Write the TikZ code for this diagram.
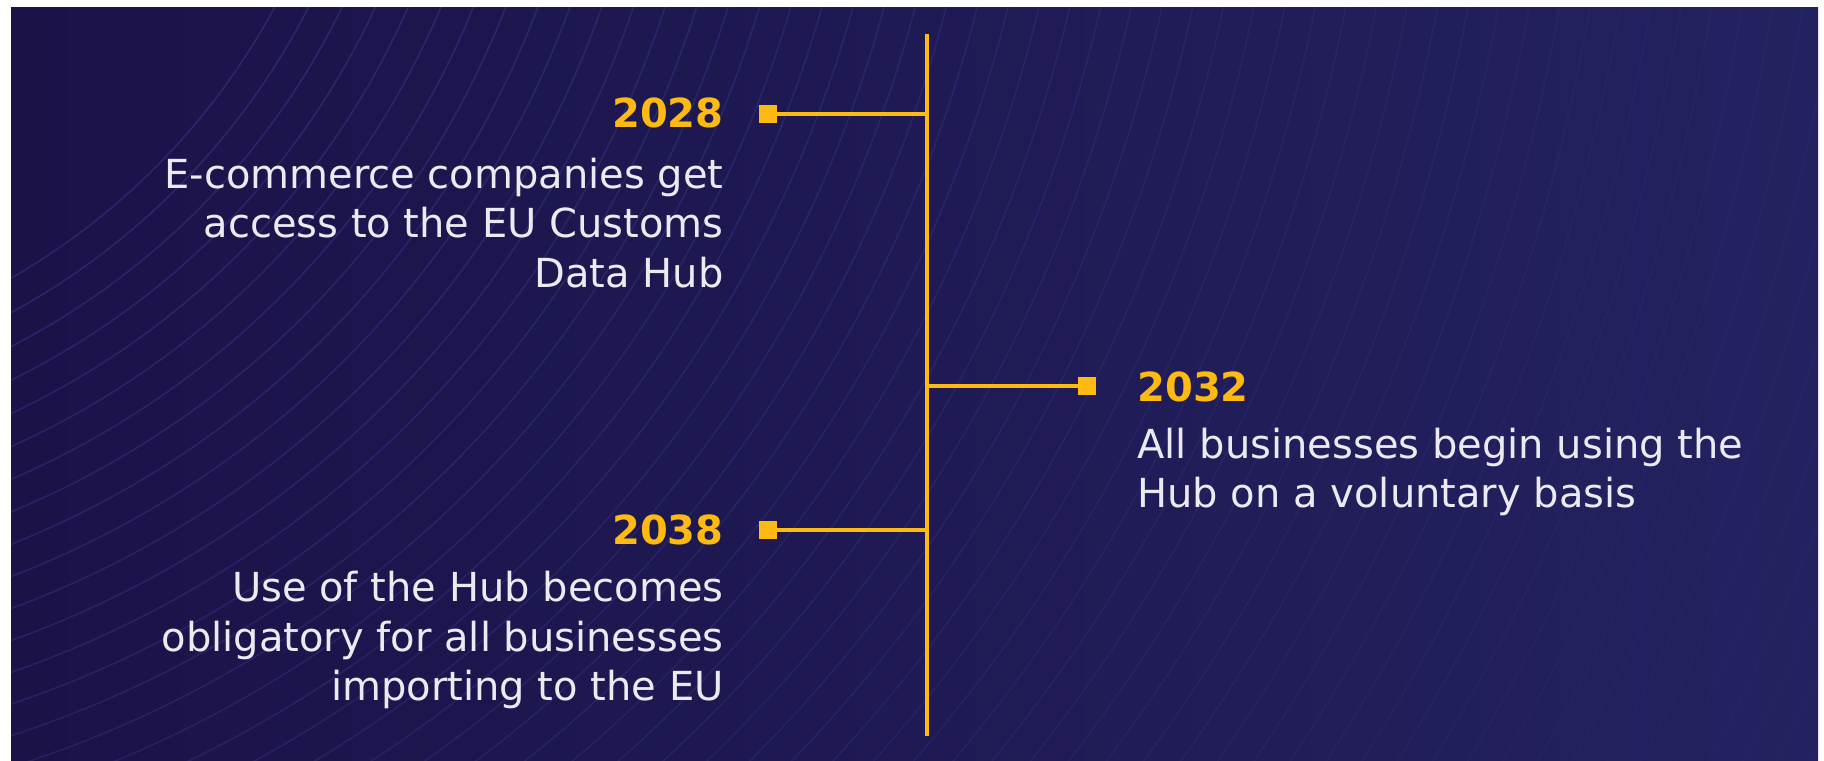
\documentclass[tikz,border=0pt]{standalone}
\usepackage{fontspec}
\setmainfont{DejaVu Sans}
\usepackage{tikz}
\definecolor{navyl}{RGB}{27,18,72}
\definecolor{navyr}{RGB}{35,34,96}
\definecolor{arcc}{RGB}{72,76,175}
\definecolor{eugold}{RGB}{252,186,18}
\definecolor{txtw}{RGB}{234,234,240}
\newcommand{\bodyfont}{\fontsize{20}{24.6}\selectfont}
\newcommand{\yearfont}{\fontsize{20}{24}\selectfont\bfseries}

\begin{document}
\begin{tikzpicture}[x=0.5pt,y=-0.5pt,
		axis/.style={draw=eugold, line width=1.7pt},
		dot/.style={fill=eugold, minimum size=9pt, inner sep=0pt, outer sep=0pt},
		year/.style={text=eugold, font=\yearfont, inner sep=0pt},
		desc/.style={text=txtw, font=\bodyfont, inner sep=0pt}]
	\useasboundingbox (0,0) rectangle (1824,760);
	\fill[white] (0,0) rectangle (1824,760);
	\shade[left color=navyl, right color=navyr] (11,7) rectangle (1818,760);
	\begin{scope}
		\clip (11,7) rectangle (1818,760);
		\foreach \r in {690,720,...,2400}
		{
			\pgfmathsetmacro{\op}{max(0.05,0.44-\r/6000)}
			\draw[arcc, line width=0.8pt, opacity=\op] (-333,-320) circle [radius=\r];
		}
	\end{scope}
	\coordinate (top) at (927,34);
	\coordinate (bot) at (927,736);
	\coordinate (j28) at (927,114);
	\coordinate (j32) at (927,386);
	\coordinate (j38) at (927,530);
	\node[dot] (d28) at (768,114) {};
	\node[dot] (d32) at (1087,386) {};
	\node[dot] (d38) at (768,530) {};
	\path[axis]
		(top) edge (bot)
		(d28) edge (j28)
		(d32) edge (j32)
		(d38) edge (j38);
	\node[year, anchor=base east] (y28) at (724,127) {2028};
	\node[desc, anchor=north east, align=right] (t28) at (724,158) {E-commerce companies get\\access to the EU Customs\\Data Hub};
	\node[year, anchor=base west] (y32) at (1137,401) {2032};
	\node[desc, anchor=north west, align=left] (t32) at (1137,428) {All businesses begin using the\\Hub on a voluntary basis};
	\node[year, anchor=base east] (y38) at (724,544) {2038};
	\node[desc, anchor=north east, align=right] (t38) at (724,571) {Use of the Hub becomes\\obligatory for all businesses\\importing to the EU};
\end{tikzpicture}
\end{document}
